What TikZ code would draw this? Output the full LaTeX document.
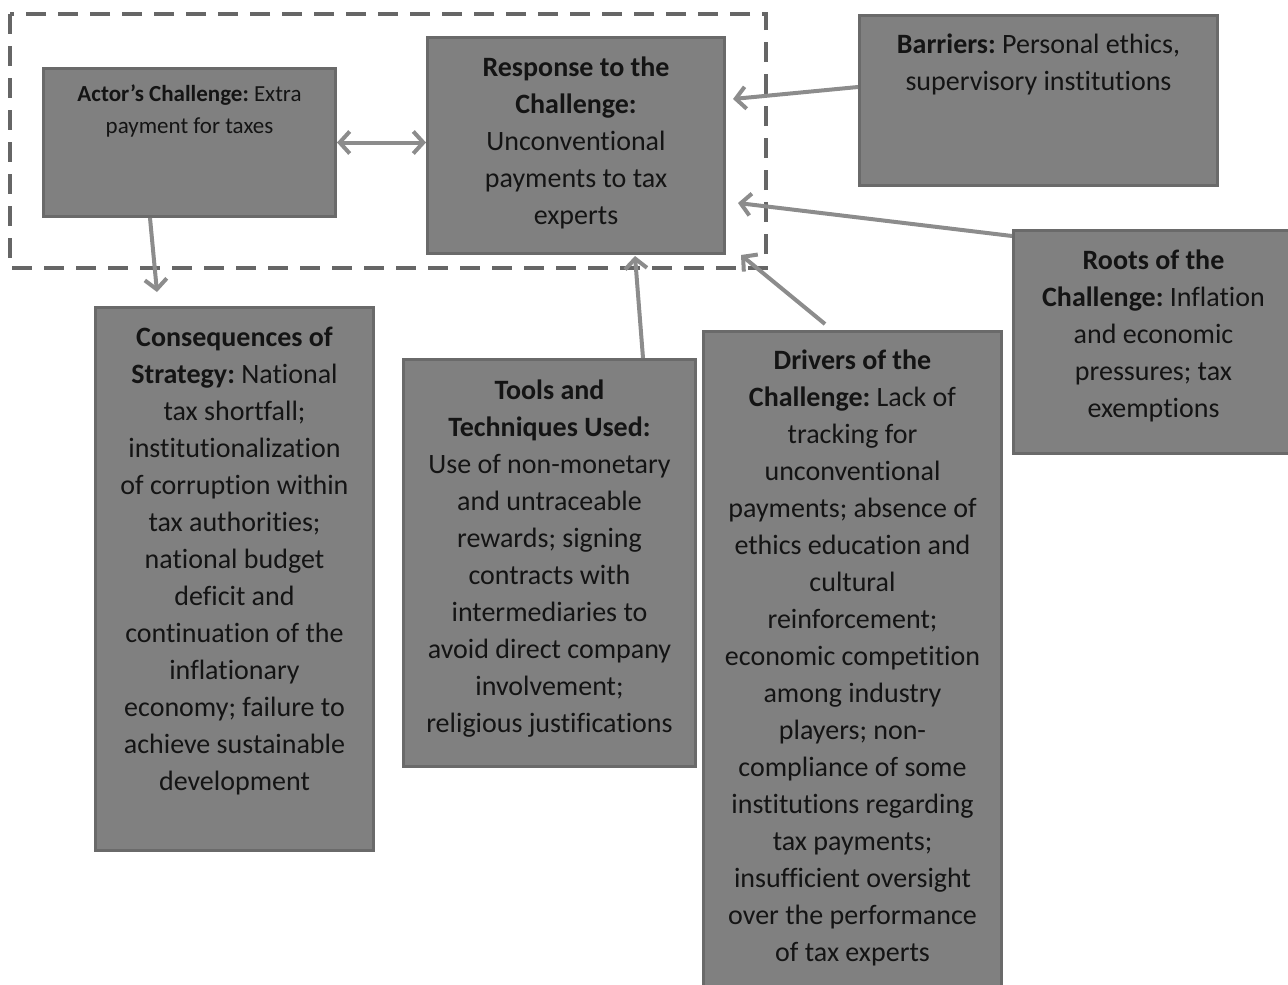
\documentclass[tikz,border=0pt]{standalone}
\usepackage{fontspec}
\setmainfont{Carlito}[Ligatures=NoCommon]
\frenchspacing
\usetikzlibrary{arrows.meta,calc}
\definecolor{boxfill}{HTML}{808080}
\definecolor{boxline}{HTML}{6A6A6A}
\definecolor{arrowgray}{HTML}{8C8C8C}
\definecolor{dashgray}{HTML}{666666}
\definecolor{textblack}{HTML}{141414}
\tikzstyle{block}=[draw=boxline, fill=boxfill, line width=3pt, inner sep=0pt,
 anchor=north west, text=textblack, font=\fontsize{28}{37}\selectfont]
\tikzstyle{link}=[draw=arrowgray, line width=4pt, -{Straight Barb[length=10pt,width=22pt]}]
\tikzstyle{twolink}=[link, {Straight Barb[length=10pt,width=22pt]}-{Straight Barb[length=10pt,width=22pt]}]
\newcommand{\blocktext}[4]{\parbox[c][#2][t]{#1}{\centering\rule{0pt}{#3}#4}}

\begin{document}
\begin{tikzpicture}[x=1pt,y=-1pt]
	\useasboundingbox (0,0) rectangle (1288,985);

		% Frame round actor and response
		\draw[dashgray, line width=4pt, dash pattern=on 20pt off 12pt] (10,14) rectangle (766,268);

		% Blocks
		\node[block, font=\fontsize{23}{32}\selectfont] (actor) at (42,67)
		{\blocktext{292pt}{148pt}{33pt}{\textbf{Actor’s Challenge:} Extra\\payment for taxes}};
		\node[block] (resp) at (426,36)
		{\blocktext{297pt}{216pt}{39pt}{\textbf{Response to the}\\\textbf{Challenge:}\\Unconventional\\payments to tax\\experts}};
		\node[block] (barr) at (858,14)
		{\blocktext{358pt}{170pt}{38pt}{\textbf{Barriers:} Personal ethics,\\supervisory institutions}};
		\node[block] (roots) at (1012,229)
		{\blocktext{280pt}{223pt}{39pt}{\textbf{Roots of the}\\\textbf{Challenge:} Inflation\\and economic\\pressures; tax\\exemptions}};
		\node[block] (cons) at (94,306)
		{\blocktext{278pt}{543pt}{39pt}{\textbf{Consequences of}\\\textbf{Strategy:} National\\tax shortfall;\\institutionalization\\of corruption within\\tax authorities;\\national budget\\deficit and\\continuation of the\\inflationary\\economy; failure to\\achieve sustainable\\development}};
		\node[block] (tools) at (402,358)
		{\blocktext{292pt}{407pt}{40pt}{\textbf{Tools and}\\\textbf{Techniques Used:}\\Use of non-monetary\\and untraceable\\rewards; signing\\contracts with\\intermediaries to\\avoid direct company\\involvement;\\religious justifications}};
		\node[block] (drv) at (702,330)
		{\blocktext{298pt}{665pt}{38pt}{\textbf{Drivers of the}\\\textbf{Challenge:} Lack of\\tracking for\\unconventional\\payments; absence of\\ethics education and\\cultural\\reinforcement;\\economic competition\\among industry\\players; non-\\compliance of some\\institutions regarding\\tax payments;\\insufficient oversight\\over the performance\\of tax experts}};

		% Links
		\draw[twolink] (actor.east) -- (actor.east -| resp.west);
		\draw[link] ($(actor.south west)+(108,0)$) -- ($(cons.north west)+(63,-14)$);
		\draw[link] ($(barr.north west)+(0,73)$) -- ($(resp.north east)+(7,63)$);
		\draw[link] ($(roots.north west)+(0,7)$) -- ($(resp.north east)+(12,167)$);
		\draw[link] ($(tools.north west)+(241,0)$) -- ($(resp.south west)+(209,1)$);
		\draw[link] ($(drv.north west)+(123,-6)$) -- ($(resp.south east)+(15,0)$);
\end{tikzpicture}
\end{document}
